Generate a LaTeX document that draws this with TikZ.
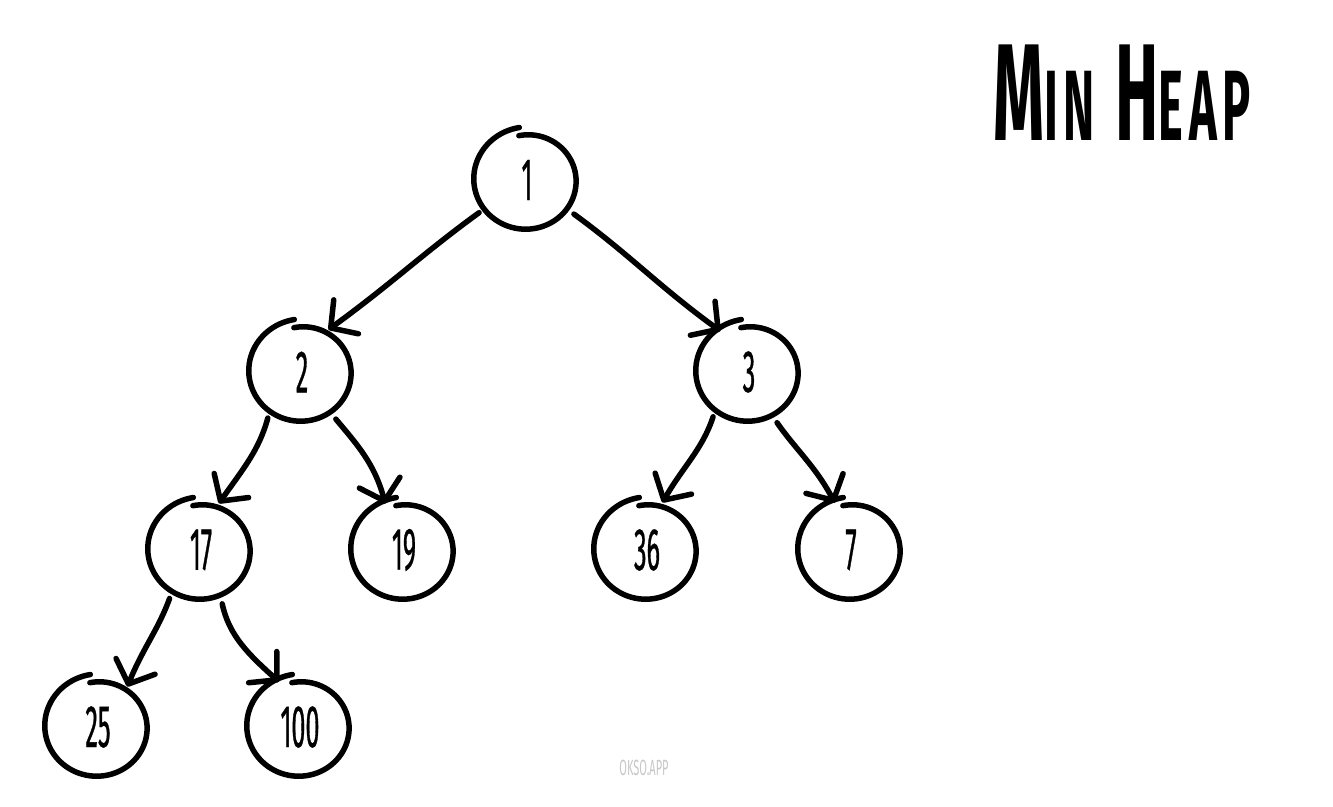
\documentclass[tikz,border=0pt]{standalone}
\usepackage{fontspec}
\usetikzlibrary{arrows.meta}
\newfontfamily\handfont[FakeStretch=0.42,FakeBold=0.5]{Fira Sans}
\newfontfamily\markfont[FakeStretch=0.5]{Fira Sans}
\newfontfamily\titlefont[FakeStretch=0.47,LetterSpace=6]{Fira Sans}
\begin{document}
\begin{tikzpicture}[x=1pt,y=1pt,
  hnode/.style={circle,minimum size=100pt,inner sep=0pt,outer sep=0pt,
    font=\handfont\fontsize{60}{60}\selectfont},
  handring/.style={line width=5.5pt,line cap=round,line join=round},
  edge/.style={line width=5.5pt,line cap=round,shorten <=8pt,
    -{Straight Barb[length=19pt,width=42pt,line width=5.5pt,round]}}]
\useasboundingbox (0,0) rectangle (1333,-806);
% nodes
\node[hnode] (n1) at (527,-180) {1};
\node[hnode] (n2) at (302,-372) {2};
\node[hnode] (n3) at (749,-372) {3};
\node[hnode] (n17) at (201,-550) {17};
\node[hnode] (n19) at (404,-550) {19};
\node[hnode] (n36) at (647,-550) {36};
\node[hnode] (n7) at (851,-550) {7};
\node[hnode] (n25) at (98,-727) {25};
\node[hnode] (n100) at (300,-727) {100};
% hand drawn rings
\foreach \n in {n1,n2,n3,n17,n19,n36,n7,n25,n100}{
  \draw[handring,shift={(\n.center)}] plot[smooth,samples=90,domain=100:-262]
    ({(45+8*(100-\x)/362)*1.04*cos(\x)},{(45+8*(100-\x)/362)*sin(\x)});
}
% edges
\draw[edge] (n1.214) to[out=216,in=36] (n2.58);
\draw[edge] (n1.324) to[out=-36,in=144] (n3.125);
\draw[edge] (n2.230) to[out=255,in=55] (n17.69);
\draw[edge] (n2.-55) to[out=-50,in=105] (n19.112);
\draw[edge] (n3.228) to[out=252,in=60] (n36.72);
\draw[edge] (n3.-62) to[out=-55,in=118] (n7.109);
\draw[edge] (n17.235) to[out=250,in=68] (n25.54);
\draw[edge] (n17.-67) to[out=-78,in=138] (n100.115);
% title
\node[anchor=base west,inner sep=0pt] (title) at (993,-140)
  {\titlefont\bfseries\fontsize{138}{138}\selectfont M\fontsize{100}{100}\selectfont IN\hspace{20pt}\fontsize{138}{138}\selectfont H\fontsize{100}{100}\selectfont EAP};
% watermark
\node[text=black!22,font=\markfont\fontsize{22}{22}\selectfont] (wm) at (644,-768) {OKSO.APP};
\end{tikzpicture}
\end{document}
